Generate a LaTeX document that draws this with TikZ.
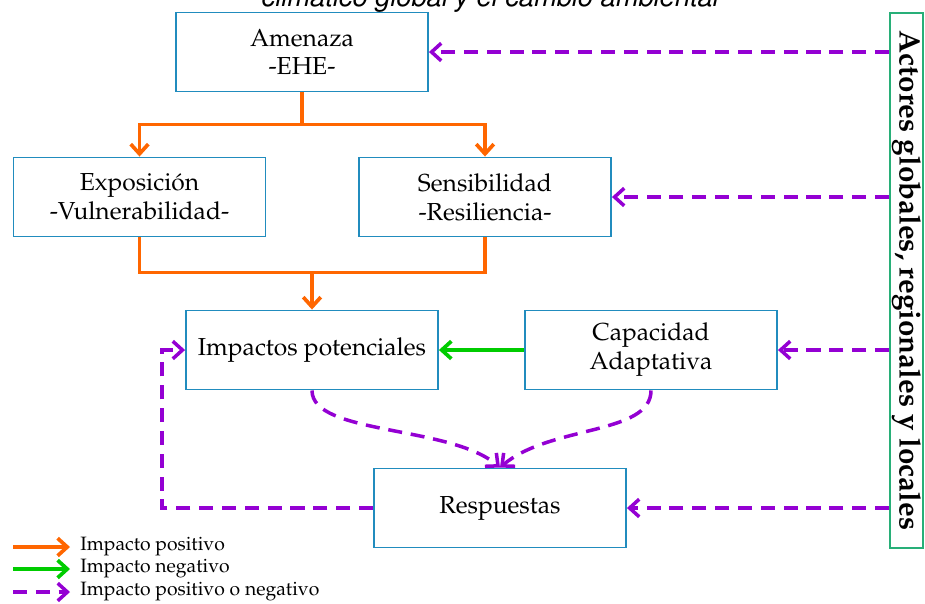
\documentclass[tikz,border=0pt]{standalone}
\usepackage[T1]{fontenc}
\usepackage{mathpazo}
\usetikzlibrary{arrows.meta}

\definecolor{boxblue}{RGB}{33,140,190}
\definecolor{impOrange}{RGB}{255,102,0}
\definecolor{impGreen}{RGB}{0,204,0}
\definecolor{impPurple}{RGB}{148,0,211}
\definecolor{actGreen}{RGB}{40,175,120}

\begin{document}
\begin{tikzpicture}[x=0.02cm, y=-0.02cm, >={Straight Barb[length=5.5pt,width=10pt]},
  caja/.style={draw=boxblue, line width=1.1pt, fill=white, minimum width=5.04cm,
    minimum height=1.58cm, align=center, inner sep=0pt,
    font=\fontsize{14}{16.5}\selectfont},
  flechapos/.style={->, impOrange, line width=2.1pt},
  flechaneg/.style={->, impGreen, line width=2.1pt},
  flechamix/.style={->, impPurple, line width=2pt, dash pattern=on 8pt off 5pt},
  leyenda/.style={anchor=west, inner sep=0pt, font=\fontsize{11}{13}\selectfont}]

  \useasboundingbox (0,0) rectangle (925,603);

  % --- 1. Titulo (cortado por arriba) ---
  \node[anchor=base, inner sep=0pt,
    font=\fontfamily{phv}\fontsize{15.5}{18}\selectfont\itshape] (titulo) at (489,6)
    {clim\'atico global y el cambio ambiental};

  % --- 2. Cajas ---
  \node[caja] (amenaza) at (302,52) {Amenaza\\-EHE-};
  \node[caja] (exposicion) at (139.5,197) {Exposici\'on\\-Vulnerabilidad-};
  \node[caja] (sensibilidad) at (485,197) {Sensibilidad\\-Resiliencia-};
  \node[caja] (impactos) at (312,350) {Impactos potenciales};
  \node[caja] (capacidad) at (651,350) {Capacidad\\Adaptativa};
  \node[caja] (respuestas) at (500,508) {Respuestas};

  % actores (texto vertical)
  \node[draw=actGreen, line width=1.1pt, rotate=-90, minimum width=10.7cm,
    minimum height=0.66cm, inner sep=0pt,
    font=\bfseries\fontsize{16.8}{19}\selectfont] (actores) at (906.5,280.5)
    {Actores globales, regionales y locales};

  % --- 3. Flechas naranjas (impacto positivo) ---
  \draw[flechapos] (amenaza.south) -- ++(0,32) -| (exposicion.north);
  \draw[flechapos] (amenaza.south) -- ++(0,32) -| (sensibilidad.north);
  \draw[impOrange, line width=2.1pt] (exposicion.south) -- ++(0,35) -| (sensibilidad.south);
  \coordinate (union) at (312,272);
  \draw[flechapos] (union) -- (impactos.north);

  % --- 4. Flecha verde (impacto negativo) ---
  \draw[flechaneg] (capacidad.west) -- (impactos.east);

  % --- 5. Flechas moradas (positivo o negativo) ---
  \draw[flechamix] (amenaza -| actores.south) -- (amenaza.east);
  \draw[flechamix] (sensibilidad -| actores.south) -- (sensibilidad.east);
  \draw[flechamix] (capacidad -| actores.south) -- (capacidad.east);
  \draw[flechamix] (respuestas -| actores.south) -- (respuestas.east);

  \draw[flechamix] (respuestas.west) -- ++(-211,0) |- (impactos.west);
  \draw[flechamix] (impactos.south) .. controls (312,435) and (450,425) .. (respuestas.north);
  \draw[flechamix] (capacidad.south) .. controls (651,435) and (550,425) .. (respuestas.north);

  % --- 6. Leyenda ---
  \coordinate (l1) at (13,547);
  \coordinate (l2) at (13,569);
  \coordinate (l3) at (13,592);
  \node[leyenda] (t1) at (80,547) {Impacto positivo};
  \node[leyenda] (t2) at (80,569) {Impacto negativo};
  \node[leyenda] (t3) at (80,592) {Impacto positivo o negativo};
  \draw[flechapos, shorten >=0.2cm] (l1) -- (t1.west);
  \draw[flechaneg, shorten >=0.2cm] (l2) -- (t2.west);
  \draw[flechamix, shorten >=0.2cm] (l3) -- (t3.west);

\end{tikzpicture}
\end{document}
